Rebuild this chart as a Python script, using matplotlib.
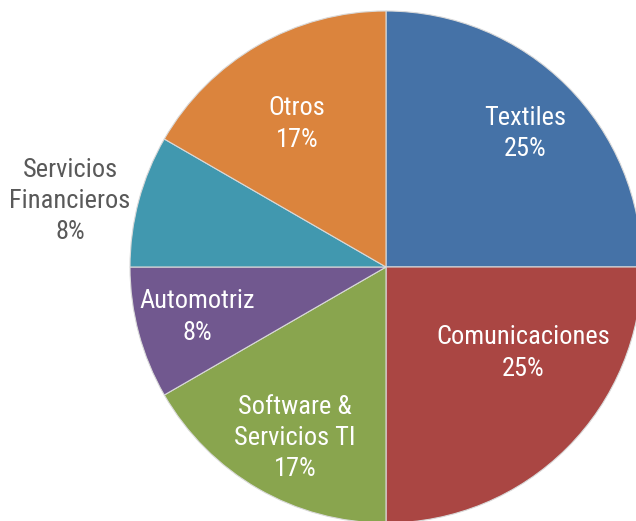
import matplotlib.pyplot as plt

plt.rcParams['font.family'] = ['Roboto Condensed', 'Liberation Sans', 'DejaVu Sans']

# Sector shares (twelfths)
categories = ["Textiles", "Comunicaciones", "Software &\nServicios TI", "Automotriz",
              "Servicios\nFinancieros", "Otros"]
values = [3, 3, 2, 1, 1, 2]
colors = ["#4572A7", "#AA4643", "#89A54E", "#71588F", "#4198AF", "#DB843D"]

# label positions (data units, radius = 1) and text colours
label_pos = [(0.543, 0.523), (0.535, -0.336), (-0.355, -0.668), (-0.738, -0.195),
             (-1.234, 0.258), (-0.348, 0.559)]
label_colors = ["white", "white", "white", "white", "#595959", "white"]

fig = plt.figure(figsize=(6.36, 5.21), dpi=100)
ax = fig.add_axes([0, 0, 1, 1])

ax.pie(values, colors=colors, startangle=90, counterclock=False, radius=1,
       wedgeprops=dict(edgecolor="#D9D9D9", linewidth=0.8))

total = sum(values)
for name, v, (x, y), c in zip(categories, values, label_pos, label_colors):
    pct = round(v / total * 100)
    ax.text(x, y, f"{name}\n{pct}%", ha="center", va="center", color=c,
            fontsize=19, linespacing=1.38)

ax.set_xlim(-386 / 256, 250 / 256)
ax.set_ylim(-254 / 256, 267 / 256)
ax.set_aspect("auto")
ax.axis("off")

plt.savefig("out.png", dpi=100)
plt.close()
